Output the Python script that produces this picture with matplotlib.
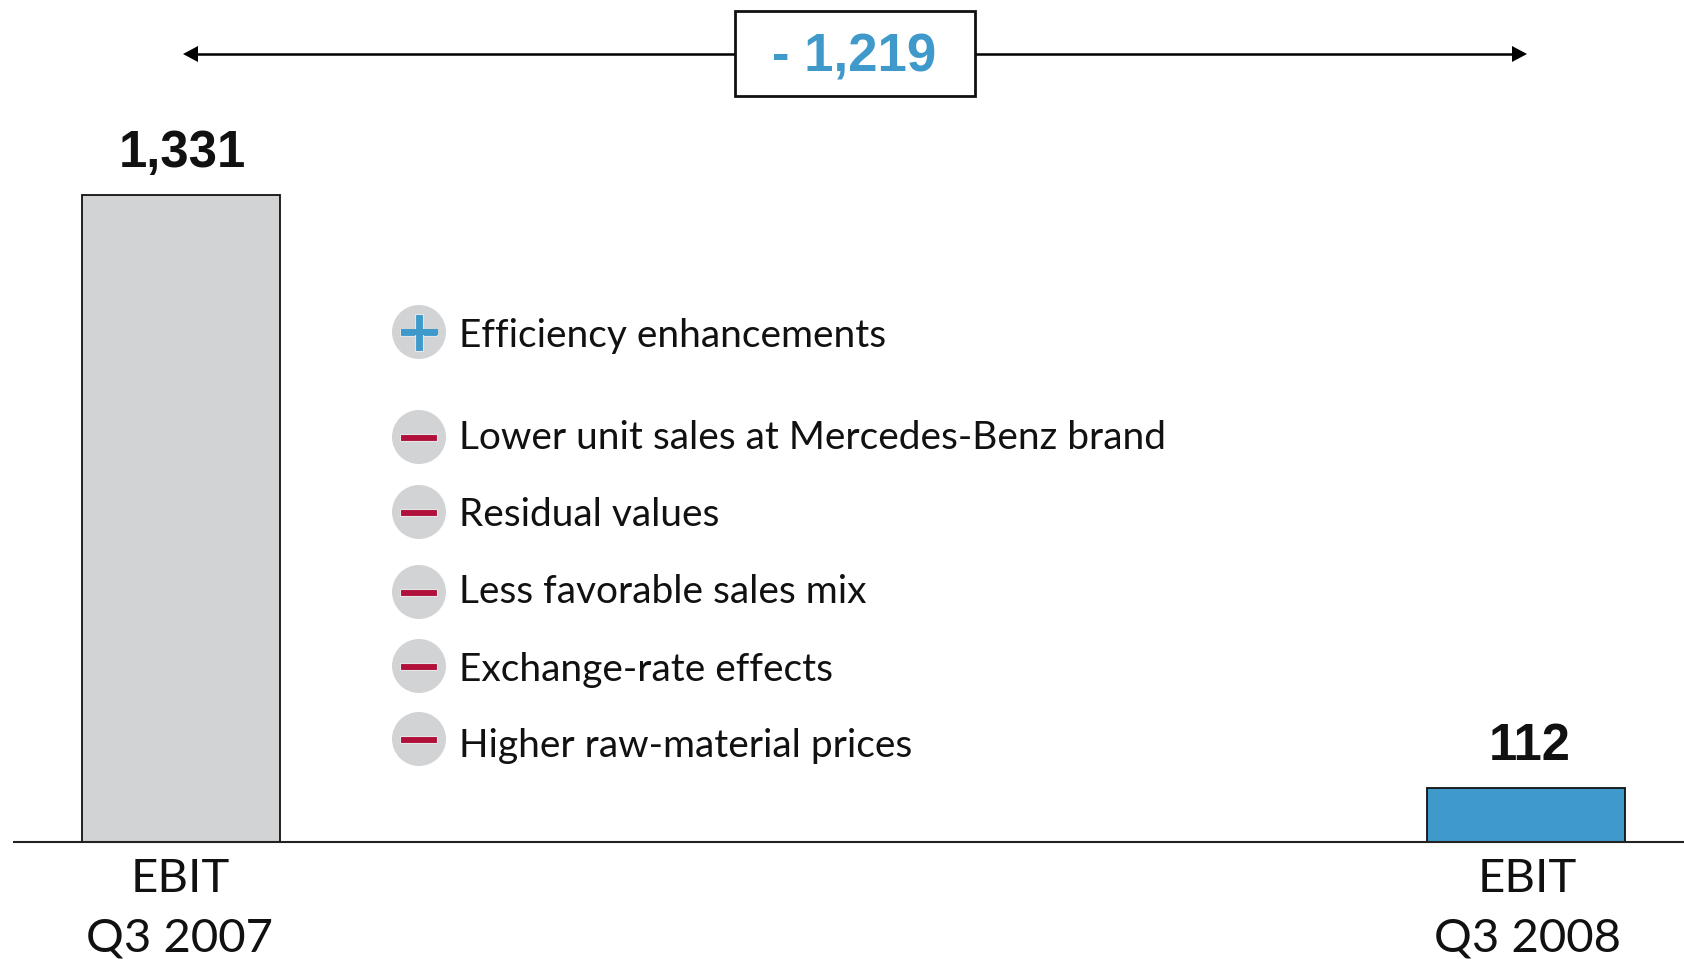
import matplotlib
matplotlib.use("Agg")
import matplotlib.pyplot as plt
from matplotlib.patches import Circle, Rectangle, Polygon

periods = ["Q3 2007", "Q3 2008"]
metric = "EBIT"
values = [1331, 112]
value_labels = ["1,331", "112"]
bar_colors = ["#D2D3D5", "#3F9ACB"]
delta_label = "- 1,219"
drivers = ["Efficiency enhancements", "Lower unit sales at Mercedes-Benz brand",
           "Residual values", "Less favorable sales mix",
           "Exchange-rate effects", "Higher raw-material prices"]
signs = ["+", "-", "-", "-", "-", "-"]

W, H = 1684, 959
fig = plt.figure(figsize=(W/100, H/100), dpi=100, facecolor="white")

# data axes (bars), aligned so baseline sits at y=842 px
ax = fig.add_axes([0, 0, 1, 1])
ax.set_xlim(-181.5/1344.5, (W-181.5)/1344.5)
ppu = 647/1331
ax.set_ylim(-(H-842)/ppu, 842/ppu)
ax.axis("off")
ax.bar([0, 1], values, width=198/1344.5, color=bar_colors, edgecolor="#111111",
       linewidth=1.3, zorder=2)

# overlay in pixel coordinates for annotation furniture
ov = fig.add_axes([0, 0, 1, 1], facecolor="none")
ov.set_xlim(0, W); ov.set_ylim(H, 0); ov.axis("off")
ov.plot([13, W], [842, 842], color="#222222", lw=1.5, zorder=3, solid_capstyle="butt")

# bracket arrow
AY = 54
ov.plot([195, 1512], [AY, AY], color="black", lw=1.8, zorder=1)
ov.add_patch(Polygon([[183, AY], [198, AY-8], [198, AY+8]], color="black", lw=0))
ov.add_patch(Polygon([[1527, AY], [1512, AY-8], [1512, AY+8]], color="black", lw=0))
ov.add_patch(Rectangle((735, 10.5), 240, 85.5, fc="white", ec="#111111", lw=2, zorder=2))
bold = "Liberation Sans"
ov.text(854, 72, delta_label, color="#3F9ACB", fontsize=38, fontweight="bold",
        family=bold, ha="center", va="baseline", zorder=4)

# value labels
ov.text(182, 167, value_labels[0], fontsize=36.5, fontweight="bold", family=bold,
        color="#111111", ha="center", va="baseline")
ov.text(1530, 760, value_labels[1], fontsize=36.5, fontweight="bold", family=bold,
        color="#111111", ha="center", va="baseline")

# category labels
reg = "Lato"
for cx, cx2, p in zip([180, 1527], [179, 1527], periods):
    ov.text(cx, 892, metric, fontsize=34, family=reg, color="#111111", ha="center", va="baseline")
    ov.text(cx2, 952, p, fontsize=34, family=reg, color="#111111", ha="center", va="baseline")

# driver list
icon_y = [332, 437, 512, 592, 666, 739]
text_base = [346.5, 449, 526, 603, 680.5, 757]
for label, s, iy, ty in zip(drivers, signs, icon_y, text_base):
    ov.add_patch(Circle((419, iy), 27, fc="#D2D3D5", ec="none", zorder=2))
    col = "#3F9ACB" if s == "+" else "#B0103A"
    halo = "#E4E5E6"
    ov.add_patch(Rectangle((400, iy-3.5), 37, 7, fc=col, ec=halo, lw=0.8, zorder=3))
    if s == "+":
        ov.add_patch(Rectangle((415, iy-18.5), 8, 37, fc=col, ec=halo, lw=0.8, zorder=3))
        ov.add_patch(Rectangle((400.5, iy-3), 37, 6, fc=col, ec="none", zorder=4))
    ov.text(459, ty, label, fontsize=28, family=reg, color="#111111", ha="left", va="baseline")

fig.savefig("out.png", dpi=100)
